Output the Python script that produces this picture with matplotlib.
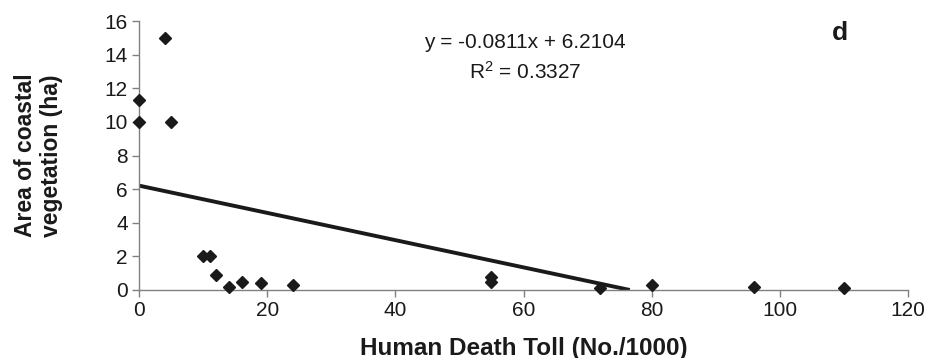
import numpy as np
import matplotlib.pyplot as plt

plt.rcParams['font.family'] = ['Liberation Sans', 'DejaVu Sans']

# death toll (No./1000) vs coastal vegetation area (ha)
death_toll = [0, 0, 4, 5, 10, 11, 12, 14, 16, 19, 24, 55, 55, 72, 80, 96, 110]
veg_area = [10, 11.3, 15, 10, 2, 2, 0.9, 0.15, 0.5, 0.4, 0.3, 0.5, 0.8, 0.1, 0.3, 0.2, 0.1]

slope = -0.0811
intercept = 6.2104
x_end = -intercept / slope  # trend line drawn down to y = 0

fig = plt.figure(figsize=(9.28, 3.58), dpi=100)
ax = fig.add_axes([0.1498, 0.19, 0.8287, 0.751])

xl = np.array([0, x_end])
ax.plot(xl, slope * xl + intercept, color='#1a1a1a', lw=2.8, solid_capstyle='butt', zorder=2)
ax.plot(death_toll, veg_area, 'D', color='#1a1a1a', ms=6.5, zorder=3, clip_on=False)

ax.set_xlim(0, 120)
ax.set_ylim(0, 16)
ax.set_xticks(range(0, 121, 20))
ax.set_yticks(range(0, 17, 2))

for s in ['top', 'right']:
    ax.spines[s].set_visible(False)
for s in ['left', 'bottom']:
    ax.spines[s].set_color('#808080')
    ax.spines[s].set_linewidth(1.0)
ax.tick_params(colors='#808080', labelcolor='#1a1a1a', labelsize=15, length=5, width=1.0, pad=3)

ax.set_xlabel('Human Death Toll (No./1000)', fontsize=17.5, fontweight='bold', color='#1a1a1a', labelpad=12)
ax.set_ylabel('Area of coastal\nvegetation (ha)', fontsize=16.5, fontweight='bold', color='#1a1a1a',
              labelpad=30, linespacing=1.15)

ax.text(60.2, 14.7, 'y = -0.0811x + 6.2104', fontsize=15, ha='center', va='center', color='#1a1a1a')
ax.text(60.2, 13.0, '$\\mathregular{R^2}$ = 0.3327', fontsize=15, ha='center', va='center', color='#1a1a1a')
ax.text(109.4, 15.3, 'd', fontsize=19, fontweight='bold', ha='center', va='center', color='#1a1a1a')

fig.savefig('out.png', dpi=100)
